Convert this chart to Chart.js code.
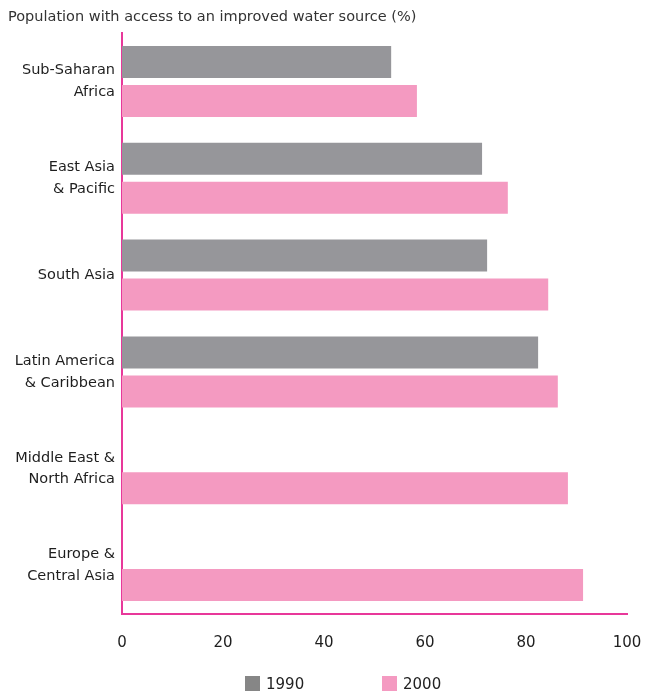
<!DOCTYPE html>
<html>
<head>
<meta charset="utf-8">
<script src="https://cdn.jsdelivr.net/npm/chart.js@4/dist/chart.umd.min.js"></script>
<style>
  body { margin: 0; background: #fff; overflow: hidden; }
  #wrap { position: relative; width: 645px; height: 692px; }
  #title { position: absolute; left: 8px; top: 8px; font: 14.5px "DejaVu Sans"; color: #333; white-space: nowrap; }
  #legend { position: absolute; top: 676px; left: 0; width: 645px; height: 16px; font: 15px "DejaVu Sans"; color: #222; }
  .item { position: absolute; top: 0; display: flex; align-items: center; height: 15px; }
  .swatch { width: 15px; height: 15px; margin-right: 6px; }
</style>
</head>
<body>
<div id="wrap">
  <canvas id="chart" width="645" height="692"></canvas>
  <div id="title">Population with access to an improved water source (%)</div>
  <div id="legend"></div>
</div>
<script>
const regions = [
  ["Sub-Saharan", "Africa"],
  ["East Asia", "& Pacific"],
  ["South Asia"],
  ["Latin America", "& Caribbean"],
  ["Middle East &", "North Africa"],
  ["Europe &", "Central Asia"]
];
const years = ["1990", "2000"];
const access1990 = [53.3, 71.3, 72.3, 82.4, null, null];
const access2000 = [58.4, 76.4, 84.4, 86.3, 88.3, 91.3];
const xTicks = [0, 20, 40, 60, 80, 100];

const barColors = ["#96969a", "#f49ac1"];
const legendColors = ["#868686", "#f49ac1"];
const axisColor = "#e8389a";

const chart = new Chart(document.getElementById("chart"), {
  type: "bar",
  data: {
    labels: regions,
    datasets: [
      { label: years[0], data: access1990, backgroundColor: barColors[0] },
      { label: years[1], data: access2000, backgroundColor: barColors[1] }
    ]
  },
  options: {
    indexAxis: "y",
    responsive: false,
    animation: false,
    devicePixelRatio: 1,
    categoryPercentage: 0.806,
    barPercentage: 0.82,
    layout: { padding: { top: 33, left: 0, right: 18, bottom: 0 } },
    plugins: {
      legend: { display: false },
      title: { display: false },
      tooltip: { enabled: false }
    },
    scales: {
      x: {
        min: xTicks[0],
        max: xTicks[xTicks.length - 1],
        afterBuildTicks: (scale) => { scale.ticks = xTicks.map((v) => ({ value: v })); },
        afterFit: (scale) => {
          scale.height = 78;
          scale.paddingLeft = 0;
          scale.paddingRight = 0;
        },
        grid: { display: false, drawTicks: false },
        border: { color: axisColor, width: 2 },
        ticks: { padding: 20, color: "#1e1e1e", font: { family: "DejaVu Sans", size: 15 } }
      },
      y: {
        afterFit: (scale) => { scale.width = 122; },
        grid: { display: false, drawTicks: false },
        border: { color: axisColor, width: 2 },
        ticks: {
          padding: 7,
          color: "#1e1e1e",
          font: { family: "DejaVu Sans", size: 14.5, lineHeight: 1.5 }
        }
      }
    }
  }
});

// legend below the chart
const legendX = [245, 382];
const legend = document.getElementById("legend");
chart.data.datasets.forEach((ds, i) => {
  const item = document.createElement("div");
  item.className = "item";
  item.style.left = legendX[i] + "px";
  item.innerHTML = `<span class="swatch" style="background:${legendColors[i]}"></span>${ds.label}`;
  legend.appendChild(item);
});
</script>
</body>
</html>
